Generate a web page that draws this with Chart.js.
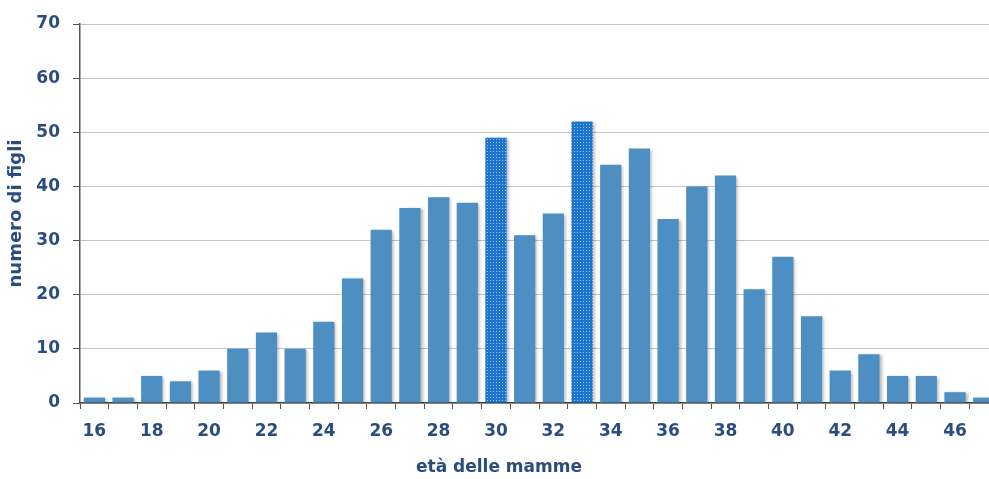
<!DOCTYPE html>
<html>
<head>
<meta charset="utf-8">
<script src="https://cdn.jsdelivr.net/npm/chart.js@4/dist/chart.umd.min.js"></script>
<style>
  html, body { margin: 0; padding: 0; background: #fff; overflow: hidden; }
  #wrap { width: 1000px; height: 479px; }
</style>
</head>
<body>
<div id="wrap"><canvas id="chart" width="1000" height="479"></canvas></div>
<script>
// eta delle mamme e numero di figli
const ages = [16, 17, 18, 19, 20, 21, 22, 23, 24, 25, 26, 27, 28, 29, 30, 31,
              32, 33, 34, 35, 36, 37, 38, 39, 40, 41, 42, 43, 44, 45, 46, 47];
const counts = [1, 1, 5, 4, 6, 10, 13, 10, 15, 23, 32, 36, 38, 37, 49, 31,
                35, 52, 44, 47, 34, 40, 42, 21, 27, 16, 6, 9, 5, 5, 2, 1];
const highlighted = [30, 33];
const yTicks = [0, 10, 20, 30, 40, 50, 60, 70];

const textBlue = '#2a4d80';
const barBlue = '#4d8fc2';

// motivo a puntini per le barre evidenziate
function dotPattern() {
  const c = document.createElement('canvas');
  c.width = 3; c.height = 3;
  const g = c.getContext('2d');
  g.fillStyle = '#1d74cf';
  g.fillRect(0, 0, 3, 3);
  g.fillStyle = '#9cc4ee';
  g.fillRect(1, 1, 1, 1);
  return g.createPattern(c, 'repeat');
}
const pattern = dotPattern();

const shadow = {
  id: 'shadow',
  beforeDatasetsDraw(chart) {
    const ctx = chart.ctx;
    ctx.save();
    ctx.shadowColor = 'rgba(0,0,0,0.28)';
    ctx.shadowBlur = 3;
    ctx.shadowOffsetX = 2;
    ctx.shadowOffsetY = 1;
  },
  afterDatasetsDraw(chart) {
    chart.ctx.restore();
  }
};

new Chart(document.getElementById('chart'), {
  type: 'bar',
  data: {
    labels: ages,
    datasets: [{
      data: counts,
      backgroundColor: ages.map(a => highlighted.includes(a) ? pattern : barBlue),
      borderWidth: 0,
      barPercentage: 0.74,
      categoryPercentage: 1
    }]
  },
  options: {
    responsive: false,
    devicePixelRatio: 1,
    animation: false,
    layout: { padding: { top: 24, right: 2, left: 0, bottom: 0 } },
    plugins: {
      legend: { display: false },
      tooltip: { enabled: false },
      title: {
        display: true, position: 'bottom', text: 'età delle mamme', color: textBlue,
        font: { family: 'DejaVu Sans', weight: 'bold', size: 17, lineHeight: 1.2 },
        padding: { top: 0, bottom: 1 }
      }
    },
    scales: {
      x: {
        offset: true,
        grid: { display: true, drawOnChartArea: false, offset: true, tickLength: 6, tickColor: '#555' },
        border: { color: '#444', width: 1.5 },
        ticks: {
          autoSkip: false, maxRotation: 0, padding: 12, color: textBlue,
          font: { family: 'DejaVu Sans', weight: 'bold', size: 17 },
          callback: function(v, i) { return ages[i] % 2 === 0 ? ages[i] : ''; }
        },
        afterFit: s => { s.height = 54.6; }
      },
      y: {
        min: 0, max: 70,
        afterBuildTicks: s => { s.ticks = yTicks.map(v => ({ value: v })); },
        grid: { color: '#c4c4c4', tickLength: 7, tickColor: '#555' },
        border: { color: '#555', width: 1.5 },
        ticks: {
          padding: 13, color: textBlue,
          font: { family: 'DejaVu Sans', weight: 'bold', size: 17 }
        },
        title: {
          display: true, text: 'numero di figli', color: textBlue,
          font: { family: 'DejaVu Sans', weight: 'bold', size: 18 },
          padding: { top: 6, bottom: 0 }
        },
        afterFit: s => { s.width = 80; }
      }
    }
  },
  plugins: [shadow]
});
</script>
</body>
</html>
